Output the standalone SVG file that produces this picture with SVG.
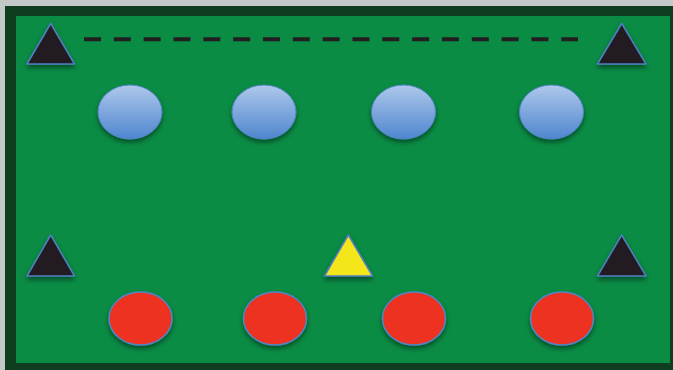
<svg xmlns="http://www.w3.org/2000/svg" width="673" height="370" viewBox="0 0 673 370">
<defs>
<linearGradient id="blueGrad" x1="0" y1="0" x2="0" y2="1">
<stop offset="0" stop-color="#aec8ea"/>
<stop offset="1" stop-color="#4f86cf"/>
</linearGradient>
<filter id="shadow" x="-30%" y="-30%" width="160%" height="170%">
<feDropShadow dx="0" dy="3" stdDeviation="2.5" flood-color="#000" flood-opacity="0.45"/>
</filter>
</defs>
<style>
.tri{fill:#231f20;stroke:#4f7fc2;stroke-width:1.5;stroke-linejoin:round;filter:url(#shadow)}
.yel{fill:#f5e61e;stroke:#4f7fc2;stroke-width:1.5;stroke-linejoin:round;filter:url(#shadow)}
.blue{fill:url(#blueGrad);stroke:#4f86c6;stroke-width:1;filter:url(#shadow)}
.red{fill:#ee3124;stroke:#4f86c6;stroke-width:1.5;filter:url(#shadow)}
.dash{stroke:#231f20;stroke-width:4;stroke-dasharray:17 12.83;fill:none}
</style>
<rect x="0" y="0" width="673" height="370" fill="#c3c9c6"/>
<rect x="5" y="6" width="668" height="364" fill="#103d20"/>
<rect x="16" y="16" width="654" height="347" fill="#0a8c45"/>
<g id="connectors">
<line class="dash" x1="84" y1="39.3" x2="578" y2="39.3"/>
</g>
<g id="tri-top-left"><polygon class="tri" points="50.7,23.5 27,64 74.5,64"/></g>
<g id="tri-top-right"><polygon class="tri" points="621.7,23.5 597.5,64 646,64"/></g>
<g id="tri-bottom-left"><polygon class="tri" points="50.7,235 27,276 74.5,276"/></g>
<g id="tri-bottom-right"><polygon class="tri" points="621.7,235 597.5,276 646,276"/></g>
<g id="tri-yellow"><polygon class="yel" points="348.3,235 324.5,276 372.5,276"/></g>
<g id="blue-1"><ellipse class="blue" cx="130" cy="112" rx="32" ry="27"/></g>
<g id="blue-2"><ellipse class="blue" cx="264" cy="112" rx="32" ry="27"/></g>
<g id="blue-3"><ellipse class="blue" cx="403.5" cy="112" rx="32" ry="27"/></g>
<g id="blue-4"><ellipse class="blue" cx="551.5" cy="112" rx="32" ry="27"/></g>
<g id="red-1"><ellipse class="red" cx="140.5" cy="318.5" rx="31.5" ry="26.5"/></g>
<g id="red-2"><ellipse class="red" cx="275" cy="318.5" rx="31.5" ry="26.5"/></g>
<g id="red-3"><ellipse class="red" cx="414" cy="318.5" rx="31.5" ry="26.5"/></g>
<g id="red-4"><ellipse class="red" cx="562" cy="318.5" rx="31.5" ry="26.5"/></g>
</svg>
